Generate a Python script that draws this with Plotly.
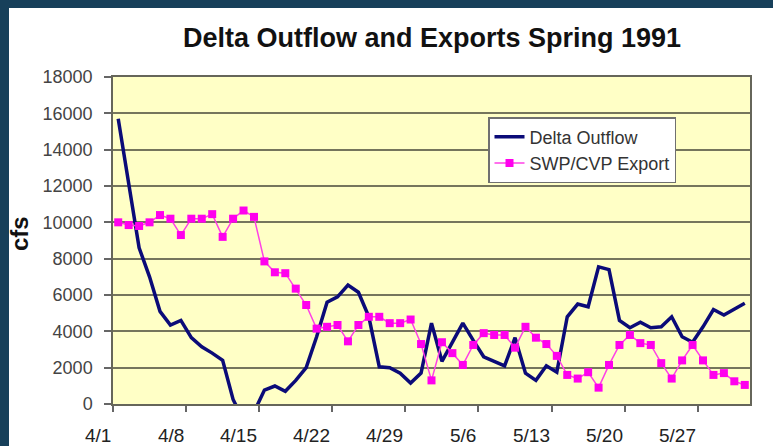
import plotly.graph_objects as go
import pandas as pd

# Daily series, 1 April - 31 May 1991 (cfs)
dates = pd.date_range("1991-04-01", "1991-05-31", freq="D")

delta_outflow = [
    15700, 12100, 8600, 7000, 5100, 4350, 4600, 3650, 3150, 2800,
    2400, 250, -900, -450, 770, 990, 700, 1300, 2000, 3700,
    5600, 5900, 6550, 6150, 4800, 2050, 2000, 1700, 1150, 1700,
    4450, 2350, 3400, 4450, 3500, 2600, 2350, 2100, 3650, 1700,
    1300, 2100, 1750, 4800, 5500, 5350, 7550, 7400, 4600, 4200,
    4500, 4200, 4250, 4800, 3700, 3400, 4250, 5200, 4900, 5200,
    5550,
]

swp_cvp_export = [
    10000, 9850, 9800, 10000, 10400, 10200, 9300, 10200, 10200, 10450,
    9200, 10200, 10650, 10300, 7850, 7250, 7200, 6350, 5450, 4150,
    4250, 4350, 3450, 4350, 4800, 4800, 4450, 4450, 4650, 3300,
    1300, 3400, 2800, 2150, 3250, 3900, 3800, 3800, 3100, 4250,
    3650, 3300, 2650, 1600, 1400, 1750, 900, 2150, 3250, 3800,
    3350, 3250, 2250, 1400, 2400, 3250, 2400, 1600, 1700, 1250,
    1050,
]

# Weekly category labels
tick_dates = ["1991-04-01", "1991-04-08", "1991-04-15", "1991-04-22", "1991-04-29",
              "1991-05-06", "1991-05-13", "1991-05-20", "1991-05-27"]
tick_labels = ["4/1", "4/8", "4/15", "4/22", "4/29", "5/6", "5/13", "5/20", "5/27"]

y_ticks = list(range(0, 18001, 2000))

# Figure geometry (pixels)
W, H = 773, 446
ML, MR, MT, MB = 113, 23, 77, 42
PW, PH = W - ML - MR, H - MT - MB


def px_x(p):
    return (p - ML) / PW


def px_y(p):
    return (H - MB - p) / PH


half_day = pd.Timedelta(hours=12)
x_range = [dates[0] - half_day, dates[-1] + half_day]
# category boundaries: ticks sit between days, labels end at the tick
tick_pos = [pd.Timestamp(d) - half_day for d in tick_dates]

PLOT_BG = "#FFFFC6"
GRID = "#75755c"
FRAME = "#17405a"
FONT = "Liberation Sans, Arial, sans-serif"

fig = go.Figure()

fig.add_trace(go.Scatter(
    x=dates, y=delta_outflow, name="Delta Outflow", mode="lines",
    line=dict(color="#0b0b78", width=3.5),
))
fig.add_trace(go.Scatter(
    x=dates, y=swp_cvp_export, name="SWP/CVP Export", mode="lines+markers",
    line=dict(color="#ff40e6", width=1.5),
    marker=dict(symbol="square", size=8, color="#ff00ee", line=dict(width=0)),
))

legend_x = px_x(488)

shapes = [
    # gridline-free band to the right of the legend
    dict(type="rect", xref="paper", yref="y", x0=legend_x, x1=1, y0=7000, y1=15000,
         fillcolor=PLOT_BG, line=dict(width=0), layer="between"),
    # dark slide frame, top and left
    dict(type="rect", xref="paper", yref="paper", x0=px_x(0), x1=px_x(W), y0=px_y(8), y1=px_y(0),
         fillcolor=FRAME, line=dict(width=0), layer="above"),
    dict(type="rect", xref="paper", yref="paper", x0=px_x(0), x1=px_x(9), y0=px_y(H), y1=px_y(0),
         fillcolor=FRAME, line=dict(width=0), layer="above"),
]

annotations = [
    dict(text="<b>cfs</b>", xref="paper", yref="paper", x=px_x(19), y=px_y(234),
         textangle=-90, showarrow=False, font=dict(family=FONT, size=24, color="#111111"),
         xanchor="center", yanchor="middle"),
]
for pos, lab in zip(tick_pos, tick_labels):
    annotations.append(dict(
        text=lab, xref="x", yref="paper", x=pos, y=0,
        xanchor="right", yanchor="middle", yshift=-31, showarrow=False,
        font=dict(family=FONT, size=19, color="#222222"),
    ))

fig.update_layout(
    width=W, height=H,
    margin=dict(l=ML, r=MR, t=MT, b=MB, pad=0),
    paper_bgcolor="white",
    plot_bgcolor=PLOT_BG,
    font=dict(family=FONT, color="#333333"),
    title=dict(text="<b>Delta Outflow and Exports Spring 1991</b>",
               xref="container", x=432 / W, xanchor="center",
               y=1 - 38 / H, yanchor="middle",
               font=dict(family=FONT, size=27, color="#111111")),
    showlegend=True,
    legend=dict(x=legend_x, y=px_y(117), xanchor="left", yanchor="top",
                bgcolor="white", bordercolor="#707070", borderwidth=1.5,
                font=dict(family=FONT, size=18, color="#333333"),
                tracegroupgap=0),
    shapes=shapes,
    annotations=annotations,
)

fig.update_xaxes(
    type="date", range=x_range,
    tickmode="array", tickvals=tick_pos, showticklabels=False,
    ticks="outside", ticklen=6, tickcolor="#666666", tickwidth=1.5,
    showgrid=False, zeroline=False,
    showline=True, linecolor="#66665a", linewidth=1.5, mirror=True,
)
fig.update_yaxes(
    range=[0, 18000], tickmode="array", tickvals=y_ticks,
    tickformat="d",
    ticks="outside", ticklen=7, tickcolor="#666666", tickwidth=1.5,
    ticklabelstandoff=8,
    tickfont=dict(family=FONT, size=18, color="#444444"),
    showgrid=True, gridcolor=GRID, gridwidth=2,
    zeroline=False,
    showline=True, linecolor="#66665a", linewidth=1.5, mirror=True,
)

fig.write_html("out.html")
